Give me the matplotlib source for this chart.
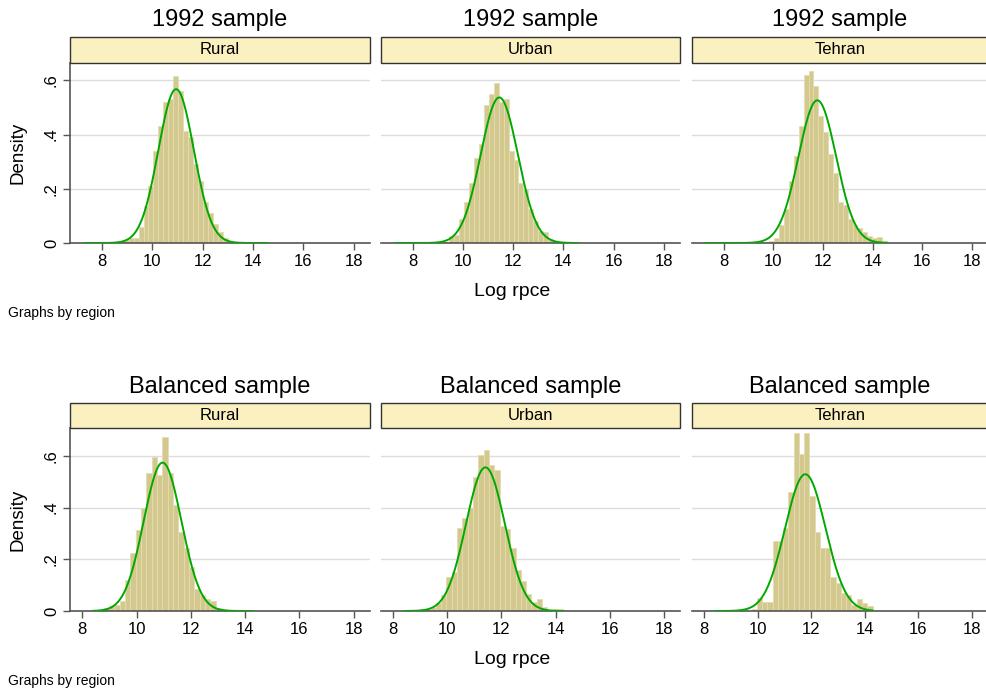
import numpy as np
import matplotlib
matplotlib.use("Agg")
import matplotlib.pyplot as plt
from matplotlib.patches import Rectangle

plt.rcParams['font.family'] = ['Liberation Sans', 'DejaVu Sans']

# ---------------- data ----------------
regions = ["Rural", "Urban", "Tehran"]
row_titles = ["1992 sample", "Balanced sample"]
x_ticks = [8, 10, 12, 14, 16, 18]
y_ticks = [0, 0.2, 0.4, 0.6]
y_tick_labels = ["0", ".2", ".4", ".6"]

# 1992 sample: common bins
bins92_start = 7.28
bins92_width = 0.197
rural_1992 = [0, 0, 0.001, 0.001, 0.002, 0.003, 0.004, 0.006, 0.012, 0.017,
              0.02, 0.06, 0.135, 0.21, 0.34, 0.43, 0.52, 0.53, 0.615, 0.56,
              0.415, 0.39, 0.29, 0.23, 0.15, 0.11, 0.07, 0.04, 0.02, 0.008,
              0.004, 0.002, 0.001, 0, 0, 0, 0]
urban_1992 = [0, 0, 0, 0, 0.001, 0.001, 0.001, 0.002, 0.002, 0.003,
              0.005, 0.025, 0.03, 0.09, 0.15, 0.22, 0.315, 0.364, 0.51, 0.55,
              0.59, 0.52, 0.53, 0.34, 0.305, 0.22, 0.2, 0.125, 0.08, 0.045,
              0.04, 0.015, 0.005, 0.003, 0.002, 0, 0]
tehran_1992 = [0, 0, 0, 0, 0, 0, 0, 0, 0, 0,
               0, 0.003, 0.003, 0.008, 0.02, 0.068, 0.125, 0.23, 0.32, 0.43,
               0.62, 0.635, 0.58, 0.467, 0.41, 0.33, 0.26, 0.15, 0.14, 0.09,
               0.065, 0.055, 0.04, 0.025, 0.018, 0.022, 0.006]
norm_mean_1992 = [10.94, 11.44, 11.77]
norm_sd_1992 = [0.703, 0.743, 0.758]

# balanced sample: common bins
binsbal_start = 8.40
binsbal_width = 0.1963
rural_bal = [0.003, 0.005, 0.012, 0.018, 0.022, 0.04, 0.12, 0.224, 0.314, 0.40,
             0.533, 0.595, 0.525, 0.672, 0.533, 0.41, 0.305, 0.245, 0.17, 0.085,
             0.062, 0.046, 0.04, 0.01, 0.008, 0.003, 0, 0, 0, 0]
urban_bal = [0, 0, 0.003, 0.006, 0.008, 0.015, 0.03, 0.06, 0.13, 0.15,
             0.32, 0.36, 0.40, 0.52, 0.604, 0.622, 0.566, 0.546, 0.328, 0.318,
             0.244, 0.16, 0.117, 0.066, 0.036, 0.047, 0.016, 0.003, 0.006, 0.006]
tehran_bal = [0, 0, 0, 0, 0, 0, 0, 0.008, 0.05, 0.036,
              0.036, 0.27, 0.27, 0.32, 0.46, 0.687, 0.607, 0.687, 0.445, 0.307,
              0.244, 0.244, 0.13, 0.11, 0.07, 0.06, 0.023, 0.047, 0.03, 0.019]
norm_mean_bal = [10.96, 11.41, 11.78]
norm_sd_bal = [0.695, 0.718, 0.754]

rows = [
    dict(title=row_titles[0], start=bins92_start, width=bins92_width,
         heights=[rural_1992, urban_1992, tehran_1992],
         means=norm_mean_1992, sds=norm_sd_1992, nbins=37,
         xlim=(6.72, 18.65), ylim=(0, 0.664)),
    dict(title=row_titles[1], start=binsbal_start, width=binsbal_width,
         heights=[rural_bal, urban_bal, tehran_bal],
         means=norm_mean_bal, sds=norm_sd_bal, nbins=30,
         xlim=(7.55, 18.6), ylim=(0, 0.708)),
]

# ---------------- style ----------------
W, H = 987, 693
fig = plt.figure(figsize=(W / 100, H / 100), dpi=100)
fig.patch.set_facecolor("white")

bar_color = "#d3c98f"
bar_edge = "#e4dcb0"
line_color = "#00a800"
grid_color = "#dcdcdc"
axis_color = "#555555"
strip_face = "#fbf0c0"
strip_edge = "#333333"

panel_x = [(70, 370), (381, 680), (692, 988)]
row_geom = [  # (title_y, strip_top, strip_bottom, axis_bottom, xlabel_y, note_y)
    (20, 37, 63, 243, 292, 313),
    (387, 403, 428, 611, 659, 681),
]

def fx(px):
    return px / W

def fy(py):
    return 1 - py / H

for r, (row, geom) in enumerate(zip(rows, row_geom)):
    title_y, s_top, s_bot, a_bot, xl_y, note_y = geom
    for c in range(3):
        x0, x1 = panel_x[c]
        ax = fig.add_axes([fx(x0), fy(a_bot), (x1 - x0) / W, (a_bot - s_bot) / H])
        heights = np.array(row["heights"][c])
        edges = row["start"] + row["width"] * np.arange(row["nbins"])
        ax.bar(edges, heights, width=row["width"], align="edge",
               color=bar_color, edgecolor=bar_edge, linewidth=0.6, zorder=2)
        xs = np.linspace(row["start"], row["start"] + row["width"] * row["nbins"], 400)
        mu, sd = row["means"][c], row["sds"][c]
        ys = np.exp(-0.5 * ((xs - mu) / sd) ** 2) / (sd * np.sqrt(2 * np.pi))
        ax.plot(xs, ys, color=line_color, lw=1.4, zorder=3)
        ax.set_xlim(*row["xlim"])
        ax.set_ylim(*row["ylim"])
        ax.set_yticks(y_ticks)
        ax.yaxis.grid(True, color=grid_color, lw=1.0, zorder=0)
        ax.set_axisbelow(True)
        for s in ["top", "right"]:
            ax.spines[s].set_visible(False)
        ax.spines["bottom"].set_color(axis_color)
        ax.spines["bottom"].set_linewidth(1.2)
        ax.set_xticks(x_ticks)
        ax.set_xticklabels([str(t) for t in x_ticks], fontsize=12)
        ax.tick_params(axis="x", length=5, width=1, color=axis_color, pad=3)
        if c == 0:
            ax.spines["left"].set_color(axis_color)
            ax.spines["left"].set_linewidth(1.2)
            ax.set_yticklabels(y_tick_labels, fontsize=12, rotation=90, va="center")
            ax.tick_params(axis="y", length=5, width=1, color=axis_color, pad=3)
        else:
            ax.spines["left"].set_visible(False)
            ax.tick_params(axis="y", length=0, labelleft=False)
        # strip
        sax = fig.add_axes([fx(x0), fy(s_bot), (x1 - x0) / W, (s_bot - s_top) / H])
        sax.set_xlim(0, 1)
        sax.set_ylim(0, 1)
        sax.axis("off")
        sax.add_patch(Rectangle((0, 0), 1, 1, facecolor=strip_face,
                                edgecolor=strip_edge, lw=1.0, transform=sax.transAxes,
                                clip_on=False))
        sax.text(0.5, 0.5, regions[c], ha="center", va="center", fontsize=12)
        # row title
        fig.text(fx((x0 + x1) / 2), fy(title_y), row["title"], ha="center",
                 va="center", fontsize=17)
    fig.text(fx(18), fy((s_bot + a_bot) / 2), "Density", rotation=90,
             ha="center", va="center", fontsize=13.5)
    fig.text(fx(512), fy(xl_y), "Log rpce", ha="center", va="center", fontsize=14)
    fig.text(fx(8), fy(note_y), "Graphs by region", ha="left", va="center",
             fontsize=10)

fig.savefig("out.png", dpi=100, facecolor="white")
